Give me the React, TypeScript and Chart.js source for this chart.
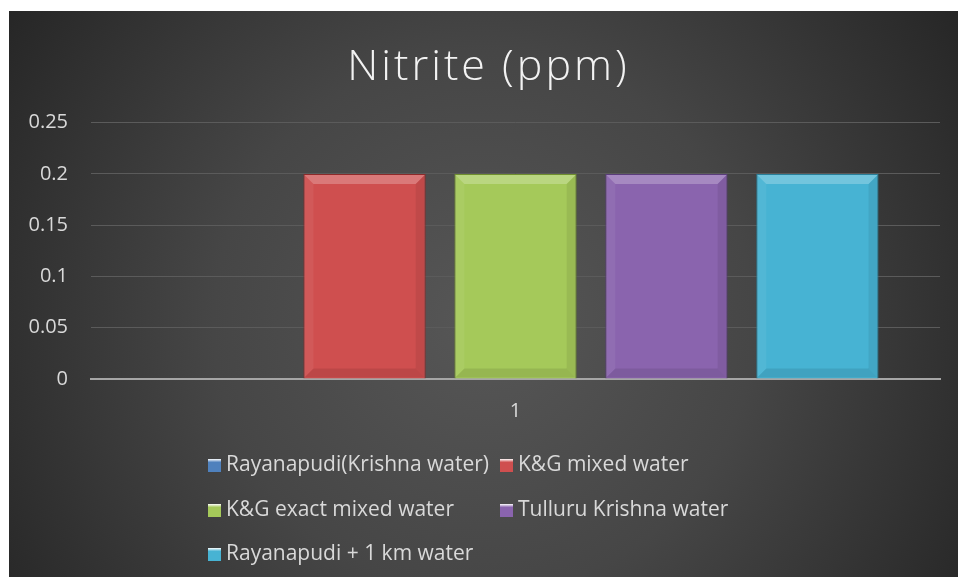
import React, { useEffect, useRef } from "react";
import { Chart, registerables } from "chart.js";

Chart.register(...registerables);

const categories = ["1"];
const seriesNames = [
  "Rayanapudi(Krishna water)",
  "K&G mixed water",
  "K&G exact mixed water",
  "Tulluru Krishna water",
  "Rayanapudi + 1 km water",
];
const seriesValues = [0, 0.2, 0.2, 0.2, 0.2];
const seriesColors = ["#4f81bd", "#cf4f4f", "#a5c95a", "#8a64ae", "#47b3d3"];
const seriesBorders = ["#2f5f95", "#8c2a2a", "#6f8e2e", "#5a3d7a", "#2a7f99"];
const yMin = 0;
const yMax = 0.25;
const yStep = 0.05;
const titleText = "Nitrite (ppm)";

const FONT = "'Open Sans', Lato, sans-serif";

const bgPlugin = {
  id: "bgGradient",
  beforeDraw(chart: any) {
    const { ctx, width, height } = chart;
    ctx.save();
    const g = ctx.createRadialGradient(width * 0.5, height * 0.55, 10, width * 0.5, height * 0.55, width * 0.62);
    g.addColorStop(0, "#565656");
    g.addColorStop(0.45, "#464646");
    g.addColorStop(1, "#242424");
    ctx.fillStyle = g;
    ctx.fillRect(0, 0, width, height);
    ctx.restore();
  },
};

const titleSpacingPlugin = {
  id: "titleSpacing",
  afterLayout(chart: any) {
    const tb = chart.titleBlock;
    if (!tb || tb.__patched) return;
    const orig = tb.draw.bind(tb);
    tb.draw = (...args: any[]) => {
      const ctx = chart.ctx;
      ctx.save();
      try {
        (ctx as any).letterSpacing = "3px";
      } catch (e) {}
      ctx.translate(14, 0);
      orig(...args);
      ctx.restore();
    };
    tb.__patched = true;
  },
};

const bevelPlugin = {
  id: "bevel",
  afterDatasetsDraw(chart: any) {
    const { ctx } = chart;
    ctx.save();
    chart.data.datasets.forEach((_ds: any, di: number) => {
      const meta = chart.getDatasetMeta(di);
      meta.data.forEach((bar: any) => {
        const { x, y, base, width } = bar.getProps(["x", "y", "base", "width"], true);
        const h = base - y;
        if (h < 8) return;
        const l = x - width / 2 + 1;
        const r = x + width / 2 - 1;
        const t = y + 1;
        const b = base - 1;
        const d = 9;
        ctx.fillStyle = "rgba(255,255,255,0.24)";
        ctx.beginPath();
        ctx.moveTo(l, t);
        ctx.lineTo(r, t);
        ctx.lineTo(r - d, t + d);
        ctx.lineTo(l + d, t + d);
        ctx.closePath();
        ctx.fill();
        ctx.fillStyle = "rgba(255,255,255,0.06)";
        ctx.beginPath();
        ctx.moveTo(l, t);
        ctx.lineTo(l + d, t + d);
        ctx.lineTo(l + d, b - d);
        ctx.lineTo(l, b);
        ctx.closePath();
        ctx.fill();
        ctx.fillStyle = "rgba(0,0,0,0.07)";
        ctx.beginPath();
        ctx.moveTo(r, t);
        ctx.lineTo(r - d, t + d);
        ctx.lineTo(r - d, b - d);
        ctx.lineTo(r, b);
        ctx.closePath();
        ctx.fill();
        ctx.fillStyle = "rgba(0,0,0,0.09)";
        ctx.beginPath();
        ctx.moveTo(l, b);
        ctx.lineTo(l + d, b - d);
        ctx.lineTo(r - d, b - d);
        ctx.lineTo(r, b);
        ctx.closePath();
        ctx.fill();
      });
    });
    ctx.restore();
  },
};

const legendPlugin = {
  id: "gridLegend",
  afterDraw(chart: any) {
    const { ctx } = chart;
    const colX = [199, 491];
    const rowY0 = chart.chartArea.bottom + 86;
    const rowH = 44.5;
    ctx.save();
    ctx.font = `21px ${FONT}`;
    ctx.textBaseline = "middle";
    ctx.textAlign = "left";
    chart.data.datasets.forEach((ds: any, i: number) => {
      const col = i % 2;
      const row = Math.floor(i / 2);
      const x = colX[col];
      const y = Math.round(rowY0 + row * rowH);
      const bg = ctx.createLinearGradient(x, y - 6, x, y + 7);
      bg.addColorStop(0, "#ffffff");
      bg.addColorStop(0.25, ds.backgroundColor);
      bg.addColorStop(1, ds.backgroundColor);
      ctx.fillStyle = bg;
      ctx.fillRect(x, y - 6, 13, 13);
      ctx.fillStyle = ds.backgroundColor;
      ctx.fillRect(x + 2, y - 2, 9, 8);
      ctx.fillStyle = "#d9d9d9";
      ctx.fillText(ds.label, x + 18, y);
    });
    ctx.restore();
  },
};

export default function App() {
  const ref = useRef<HTMLCanvasElement | null>(null);

  useEffect(() => {
    document.body.style.margin = "0";
    if (!ref.current) return;
    const chart = new Chart(ref.current, {
      type: "bar",
      data: {
        labels: categories,
        datasets: seriesNames.map((name, i) => ({
          label: name,
          data: [seriesValues[i]],
          backgroundColor: seriesColors[i],
          borderColor: seriesBorders[i],
          borderWidth: 1,
          categoryPercentage: 0.889,
          barPercentage: 0.81,
        })),
      },
      options: {
        responsive: false,
        animation: false,
        layout: { padding: { left: 0, right: 18, top: 0, bottom: 0 } },
        plugins: {
          legend: { display: false },
          tooltip: { enabled: false },
          title: {
            display: true,
            text: titleText,
            color: "#f2f2f2",
            font: { family: FONT, size: 43, weight: "300" as any, lineHeight: 1.2 },
            padding: { top: 31, bottom: 29 },
          },
        },
        scales: {
          x: {
            grid: { display: false, drawTicks: false },
            border: { display: true, color: "#a6a6a6", width: 2 },
            ticks: { color: "#d9d9d9", font: { family: FONT, size: 20 }, padding: 20 },
            afterFit(scale: any) {
              scale.height = 198;
            },
          },
          y: {
            min: yMin,
            max: yMax,
            ticks: {
              stepSize: yStep,
              color: "#d9d9d9",
              font: { family: FONT, size: 20 },
              padding: 23,
              callback: (v: any) => String(Number(Number(v).toFixed(2))),
            },
            grid: { color: "#5b5b5b", lineWidth: 1, drawTicks: false },
            border: { display: false },
            afterFit(scale: any) {
              scale.width = 82;
            },
          },
        },
      },
      plugins: [bgPlugin, titleSpacingPlugin, bevelPlugin, legendPlugin],
    });
    return () => chart.destroy();
  }, []);

  return (
    <div style={{ paddingLeft: 9, paddingTop: 11 }}>
      <canvas ref={ref} width={949} height={566} style={{ display: "block" }} />
    </div>
  );
}
